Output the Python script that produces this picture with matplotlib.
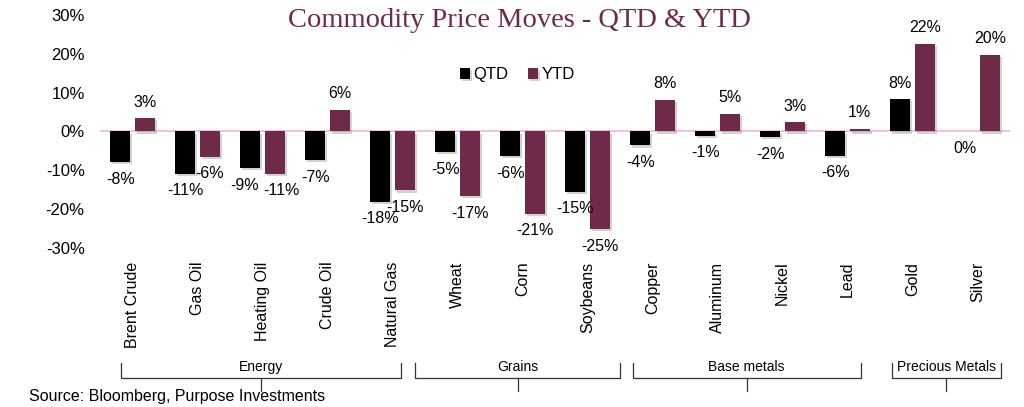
import numpy as np
import matplotlib
matplotlib.use("Agg")
import matplotlib.pyplot as plt
import matplotlib.patheffects as pe
from matplotlib.transforms import blended_transform_factory

# ── data ──────────────────────────────────────────────────────────────────────
commodities = ["Brent Crude", "Gas Oil", "Heating Oil", "Crude Oil", "Natural Gas",
               "Wheat", "Corn", "Soybeans",
               "Copper", "Aluminum", "Nickel", "Lead",
               "Gold", "Silver"]
qtd = [-7.9, -10.9, -9.5, -7.3, -18.1, -5.4, -6.3, -15.5, -3.6, -1.1, -1.5, -6.2, 8.4, 0.0]
ytd = [3.4, -6.5, -10.9, 5.6, -15.2, -16.7, -21.2, -25.1, 8.2, 4.6, 2.4, 0.7, 22.6, 19.8]
qtd_labels = ["-8%", "-11%", "-9%", "-7%", "-18%", "-5%", "-6%", "-15%", "-4%", "-1%", "-2%", "-6%", "8%", "0%"]
ytd_labels = ["3%", "-6%", "-11%", "6%", "-15%", "-17%", "-21%", "-25%", "8%", "5%", "3%", "1%", "22%", "20%"]
groups = ["Energy", "Grains", "Base metals", "Precious Metals"]
group_spans = [(-0.18, 4.13), (4.35, 7.5), (7.7, 11.2), (11.68, 13.36)]

QTD_COL = "#000000"
YTD_COL = "#6E2A48"
ZERO_COL = "#F2B6D8"

plt.rcParams["font.family"] = ["Liberation Sans", "DejaVu Sans"]

fig = plt.figure(figsize=(10.24, 4.07), dpi=100)
ax = fig.add_axes([100 / 1024, 0.391, 910 / 1024, 0.572])

x = np.arange(len(commodities))
w = 0.31
off = 0.19
shadow = [pe.SimplePatchShadow(offset=(1.5, -1.5), shadow_rgbFace="gray", alpha=0.35), pe.Normal()]
b1 = ax.bar(x - off, qtd, w, color=QTD_COL, label="QTD", path_effects=shadow, zorder=3)
b2 = ax.bar(x + off, ytd, w, color=YTD_COL, label="YTD", path_effects=shadow, zorder=3)

# value labels (Heating Oil pair nudged apart so they don't collide)
for bars, vals, labs, nudge in [(b1, qtd, qtd_labels, -4), (b2, ytd, ytd_labels, 5)]:
    for i, (rect, v, lab) in enumerate(zip(bars, vals, labs)):
        cx = rect.get_x() + rect.get_width() / 2
        dx = nudge if commodities[i] == "Heating Oil" else 0
        if v > 0:
            ax.annotate(lab, (cx, v), xytext=(dx, 6), textcoords="offset points",
                        ha="center", va="bottom", fontsize=11.5)
        else:
            ax.annotate(lab, (cx, v), xytext=(dx, -7), textcoords="offset points",
                        ha="center", va="top", fontsize=11.5)

ax.axhline(0, color=ZERO_COL, lw=1.2, zorder=2)
ax.set_xlim(-0.5, len(commodities) - 0.5)
ax.set_ylim(-30, 30)
ax.set_yticks(np.arange(-30, 31, 10))
ax.set_yticklabels([f"{t}%" for t in range(-30, 31, 10)], fontsize=12)
ax.set_xticks(x)
ax.set_xticklabels(commodities, rotation=90, fontsize=11.5)
ax.tick_params(axis="both", length=0)
ax.tick_params(axis="x", pad=10)
ax.tick_params(axis="y", pad=11)
for s in ax.spines.values():
    s.set_visible(False)

# title
fig.text(0.507, 0.95, "Commodity Price Moves - QTD & YTD", family="Liberation Serif",
         fontsize=20.5, color=YTD_COL, ha="center", va="center")

# legend
ax.legend(loc="center", bbox_to_anchor=(0.505, 0.816), bbox_transform=fig.transFigure,
          ncol=2, frameon=False, fontsize=12, handlelength=0.6, handleheight=0.6,
          handletextpad=0.2, columnspacing=1.2)

# group brackets
tr = blended_transform_factory(ax.transData, fig.transFigure)
y_top = 1 - 363 / 407
y_bar = 1 - 378 / 407
y_tip = 1 - 391 / 407
for name, (x0, x1) in zip(groups, group_spans):
    xm = (x0 + x1) / 2
    ax.plot([x0, x0, x1, x1], [y_top, y_bar, y_bar, y_top], color="#333333", lw=0.9,
            transform=tr, clip_on=False)
    ax.plot([xm, xm], [y_bar, y_tip], color="#333333", lw=0.9, transform=tr, clip_on=False)
    ax.text(xm, 1 - 367 / 407, name, transform=tr, ha="center", va="center", fontsize=10)

fig.text(29 / 1024, 1 - 397 / 407, "Source: Bloomberg, Purpose Investments",
         fontsize=11.5, ha="left", va="center")

fig.savefig("out.png", dpi=100)
